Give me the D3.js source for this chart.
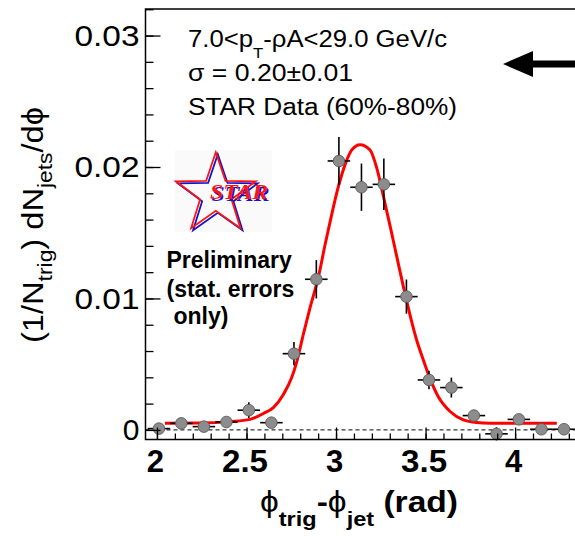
<!DOCTYPE html>
<html>
<head>
<meta charset="utf-8">
<script src="https://cdn.jsdelivr.net/npm/d3@7"></script>
<style>
  html, body { margin: 0; padding: 0; background: #fff; }
  svg { display: block; font-family: "Liberation Sans", Arial, Helvetica, sans-serif; }
</style>
</head>
<body>
<svg id="chart" width="575" height="536"></svg>
<script>
// Azimuthal correlation of recoil jets, STAR 60%-80% centrality
const binCenters = [2.011, 2.136, 2.262, 2.388, 2.513, 2.639, 2.765, 2.890, 3.016, 3.142,
                    3.267, 3.393, 3.519, 3.644, 3.770, 3.896, 4.021, 4.147, 4.273];
const binHalfWidth = [0.0628];
const yields = [0.0001, 0.0005, 0.00025, 0.0006, 0.0015, 0.00055, 0.0058, 0.01146, 0.02046, 0.01846,
                0.01868, 0.01014, 0.0038, 0.00322, 0.00109, -0.0003, 0.0008, 0.00005, 0.00005];
const statErrors = [0.0003, 0.0003, 0.0003, 0.0003, 0.0006, 0.0003, 0.00089, 0.00146, 0.00183, 0.0018,
                    0.00196, 0.0013, 0.0007, 0.00076, 0.0004, 0.0005, 0.0004, 0.0004, 0.0004];

// Gaussian + constant fit curve, sampled
const fitPhi = [2.045, 2.241, 2.408, 2.520, 2.594, 2.650, 2.706, 2.753, 2.781, 2.818, 2.855, 2.901,
                2.939, 2.976, 3.013, 3.051, 3.088, 3.134, 3.190, 3.228, 3.264, 3.302, 3.339, 3.376,
                3.414, 3.451, 3.488, 3.525, 3.572, 3.637, 3.711, 3.786, 3.860, 4.233];
const fitVal = [0.0005, 0.00052, 0.00063, 0.0008, 0.00125, 0.0017, 0.0027, 0.0040, 0.0052, 0.0073,
                0.0093, 0.0116, 0.0141, 0.0164, 0.0185, 0.0202, 0.0213, 0.0217, 0.0213, 0.0199,
                0.0178, 0.0155, 0.0132, 0.0109, 0.0087, 0.0068, 0.0053, 0.0039, 0.0025, 0.0014,
                0.00076, 0.00056, 0.00051, 0.0005];

const xTicks = [2, 2.5, 3, 3.5, 4];
const xTickLabels = ["2", "2.5", "3", "3.5", "4"];
const yTicks = [0, 0.01, 0.02, 0.03];
const yTickLabels = ["0", "0.01", "0.02", "0.03"];

const SANS = '"Liberation Sans", Arial, Helvetica, sans-serif';
const SERIF = '"Liberation Serif", "Times New Roman", Times, serif';

const svg = d3.select("#chart");

const x = d3.scaleLinear().domain([1.936, 4.349]).range([145.5, 577.6]);
const y = d3.scaleLinear().domain([-0.00073, 0.03202]).range([439.5, 9]);

const [x0, x1] = x.range();
const [yb, yt] = y.range();

// zero reference line
svg.append("line")
  .attr("x1", x0).attr("x2", x1)
  .attr("y1", y(0)).attr("y2", y(0))
  .attr("stroke", "#000").attr("stroke-width", 1)
  .attr("stroke-dasharray", "4,3");

// STAR logo
const logo = svg.append("g");
logo.append("rect").attr("x", 175).attr("y", 150).attr("width", 97).attr("height", 82)
  .attr("fill", "#fafafa");
function starPts(cx, cy, R, r) {
  const pts = [];
  for (let i = 0; i < 10; i++) {
    const a = -Math.PI / 2 + i * Math.PI / 5;
    const rr = i % 2 === 0 ? R : r;
    pts.push([cx + rr * Math.cos(a), cy + rr * Math.sin(a)]);
  }
  return pts;
}
const starLine = d3.line().curve(d3.curveLinearClosed);
logo.append("path").attr("d", starLine(starPts(217.8, 196.3, 42, 16.5)))
  .attr("fill", "none").attr("stroke", "#1414c8").attr("stroke-width", 1.8);
logo.append("path").attr("d", starLine(starPts(215.8, 194.3, 42, 16.5)))
  .attr("fill", "none").attr("stroke", "#ff1414").attr("stroke-width", 1.8);
[["#1414c8", 211.5, 200.8], ["#ff1414", 210, 199.3]].forEach(([col, tx, ty]) => {
  logo.append("text").attr("x", tx).attr("y", ty)
    .style("font-family", SERIF).style("font-style", "italic").style("font-weight", "bold")
    .style("font-size", "22px")
    .attr("textLength", 58).attr("lengthAdjust", "spacingAndGlyphs")
    .attr("fill", col).text("STAR");
});

// Preliminary note
const note = svg.append("text").style("font-family", SANS).style("font-weight", "bold")
  .style("font-size", "23px").attr("fill", "#000");
[["Preliminary", 166.5, 268.3], ["(stat. errors", 166.5, 296.7], ["only)", 173.5, 323.5]]
  .forEach(([t, tx, ty]) => {
    note.append("tspan").attr("x", tx).attr("y", ty).text(t);
  });

// fit curve
const fitData = fitPhi.map((p, i) => [p, fitVal[i]]);
svg.append("path")
  .attr("d", d3.line().x(d => x(d[0])).y(d => y(d[1])).curve(d3.curveMonotoneX)(fitData))
  .attr("fill", "none").attr("stroke", "#ff0000").attr("stroke-width", 3);

// error bars
const pts = binCenters.map((c, i) => ({ c, v: yields[i], e: statErrors[i] }));
const eb = svg.append("g").attr("stroke", "#000").attr("stroke-width", 1.6);
eb.selectAll(".ey").data(pts).join("line")
  .attr("x1", d => x(d.c)).attr("x2", d => x(d.c))
  .attr("y1", d => y(d.v - d.e)).attr("y2", d => y(d.v + d.e));
eb.selectAll(".ex").data(pts).join("line")
  .attr("x1", d => x(d.c - binHalfWidth[0])).attr("x2", d => x(d.c + binHalfWidth[0]))
  .attr("y1", d => y(d.v)).attr("y2", d => y(d.v));

// markers
svg.append("g").selectAll("circle").data(pts).join("circle")
  .attr("cx", d => x(d.c)).attr("cy", d => y(d.v)).attr("r", 5.8)
  .attr("fill", "#8c8c8c").attr("stroke", "#5a5a5a").attr("stroke-width", 0.9);

// frame
svg.append("path")
  .attr("d", `M${x1},${yt}H${x0}V${yb}H${x1}`)
  .attr("fill", "none").attr("stroke", "#000").attr("stroke-width", 1.5);

// y axis: major + minor ticks pointing inward
const yMinor = d3.range(0, 0.0321, 0.002);
const yAxisMinor = svg.append("g").attr("transform", `translate(${x0},0)`)
  .call(d3.axisLeft(y).tickValues(yMinor).tickSize(-8).tickFormat(""));
yAxisMinor.select(".domain").remove();
const yAxis = svg.append("g").attr("transform", `translate(${x0},0)`)
  .call(d3.axisLeft(y).tickValues(yTicks).tickSize(-15).tickPadding(6)
    .tickFormat((d, i) => yTickLabels[i]));
yAxis.select(".domain").remove();
yAxis.selectAll("text")
  .style("font-family", SANS).style("font-size", "30px").attr("fill", "#000")
  .each(function (d, i) {
    if (yTickLabels[i].length > 1) d3.select(this).attr("textLength", 65).attr("lengthAdjust", "spacingAndGlyphs");
  });

// x axis
const xMinor = d3.range(2.0, 4.35, 0.1);
const xAxisMinor = svg.append("g").attr("transform", `translate(0,${yb})`)
  .call(d3.axisBottom(x).tickValues(xMinor).tickSize(-6).tickFormat(""));
xAxisMinor.select(".domain").remove();
const xAxis = svg.append("g").attr("transform", `translate(0,${yb})`)
  .call(d3.axisBottom(x).tickValues(xTicks).tickSize(-12).tickPadding(10)
    .tickFormat((d, i) => xTickLabels[i]));
xAxis.select(".domain").remove();
xAxis.selectAll("text")
  .style("font-family", SANS).style("font-weight", "bold").style("font-size", "31px")
  .attr("fill", "#000").attr("dx", -2)
  .each(function (d, i) {
    if (xTickLabels[i].length > 1) d3.select(this).attr("textLength", 46).attr("lengthAdjust", "spacingAndGlyphs");
  });
svg.selectAll("g.tick line").attr("stroke", "#000").attr("stroke-width", 1.3);

// x title
const xt = svg.append("text").attr("x", 260).attr("y", 512)
  .style("font-family", SANS).style("font-size", "30px").style("font-weight", "bold").attr("fill", "#000")
  .attr("textLength", 198).attr("lengthAdjust", "spacingAndGlyphs");
xt.append("tspan").style("font-weight", "normal").text("ϕ");
xt.append("tspan").style("font-size", "21px").attr("dy", 14).text("trig");
xt.append("tspan").attr("dy", -14).text("-");
xt.append("tspan").style("font-weight", "normal").text("ϕ");
xt.append("tspan").style("font-size", "21px").attr("dy", 14).text("jet");
xt.append("tspan").attr("dy", -14).text(" (rad)");

// y title
const yl = svg.append("text")
  .attr("transform", "translate(43,343) rotate(-90)")
  .style("font-family", SANS).style("font-size", "30px").attr("fill", "#000")
  .attr("textLength", 236).attr("lengthAdjust", "spacingAndGlyphs");
yl.append("tspan").text("(1/N");
yl.append("tspan").style("font-size", "21px").attr("dy", 9).text("trig");
yl.append("tspan").attr("dy", -9).text(") dN");
yl.append("tspan").style("font-size", "21px").attr("dy", 9).text("jets");
yl.append("tspan").attr("dy", -9).text("/dϕ");

// info text
const info = svg.append("g").attr("fill", "#000").style("font-family", SANS);
const l1 = info.append("text").attr("x", 188).attr("y", 46.5).style("font-size", "23px")
  .attr("textLength", 259).attr("lengthAdjust", "spacingAndGlyphs");
l1.append("tspan").text("7.0<p");
l1.append("tspan").style("font-size", "15px").attr("dy", 11).text("T");
l1.append("tspan").attr("dy", -11).text("-ρA<29.0 GeV/c");
info.append("text").attr("x", 188).attr("y", 80.5).style("font-size", "23px")
  .attr("textLength", 165).attr("lengthAdjust", "spacingAndGlyphs")
  .text("σ = 0.20±0.01");
info.append("text").attr("x", 188).attr("y", 115).style("font-size", "23px")
  .attr("textLength", 269).attr("lengthAdjust", "spacingAndGlyphs")
  .text("STAR Data (60%-80%)");

// arrow
svg.append("path")
  .attr("d", "M503,64 L533,51 L533,60.5 L577,60.5 L577,67.5 L533,67.5 L533,77 Z")
  .attr("fill", "#000");
</script>
</body>
</html>
